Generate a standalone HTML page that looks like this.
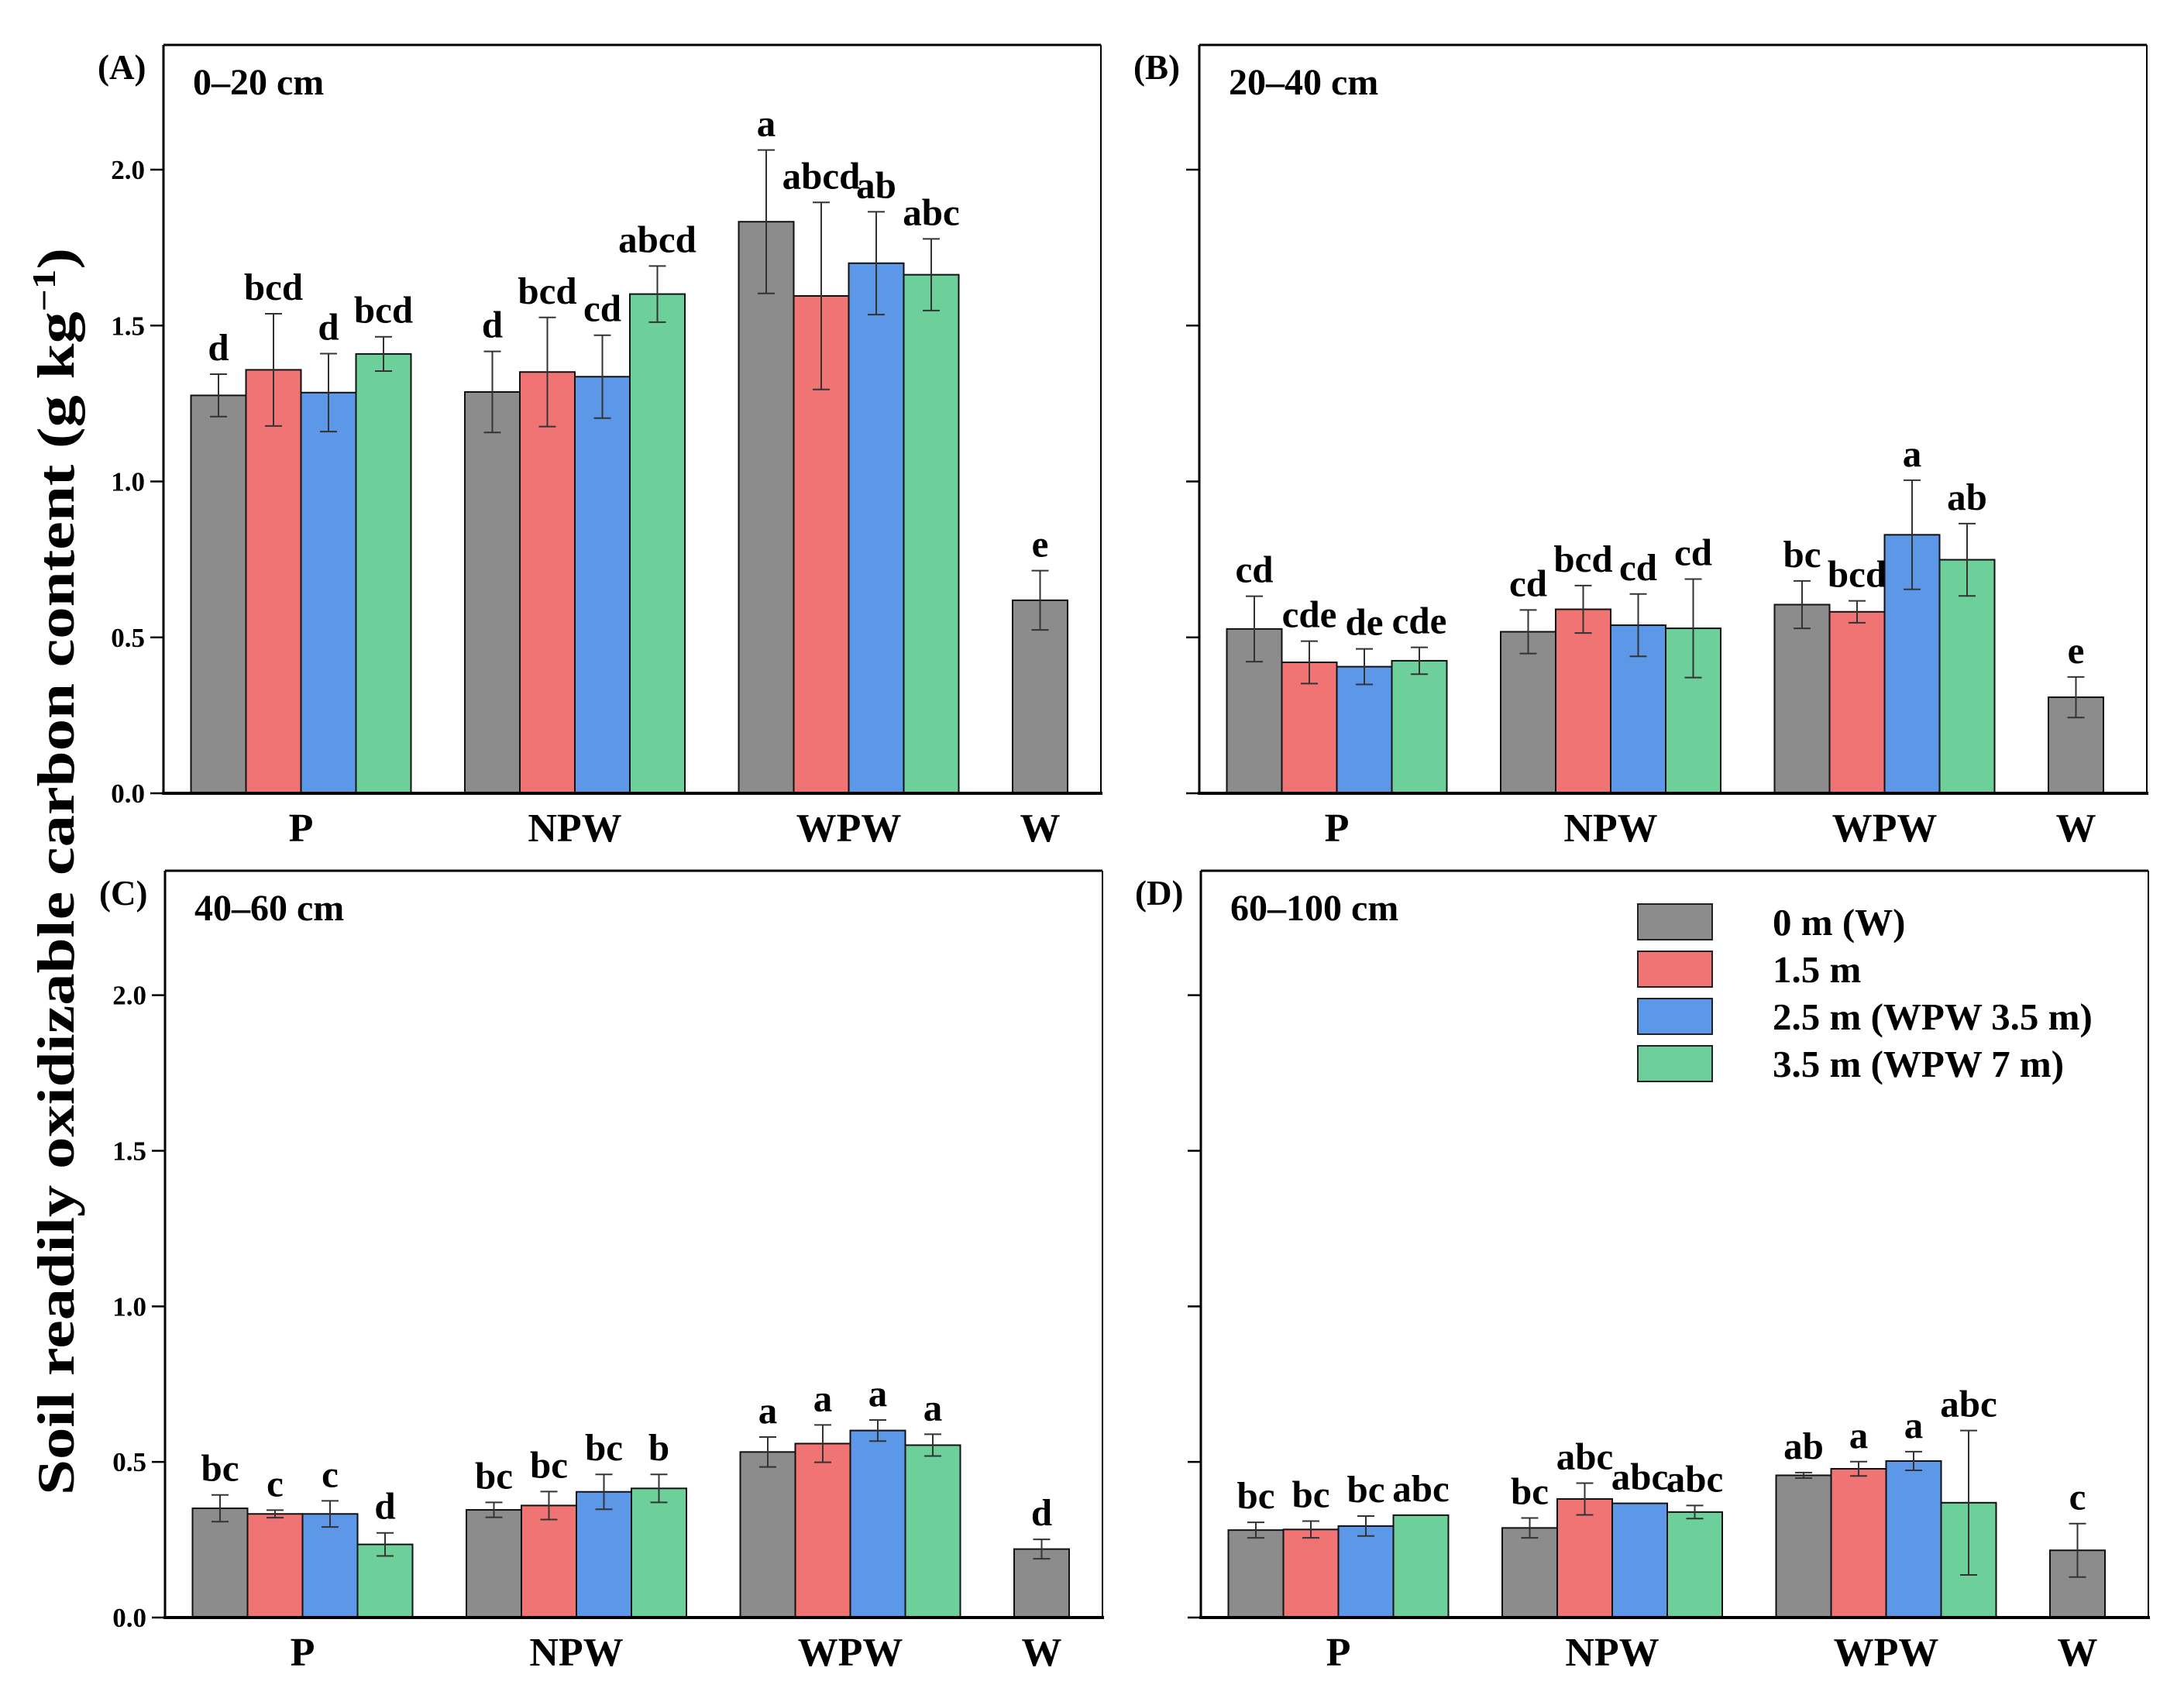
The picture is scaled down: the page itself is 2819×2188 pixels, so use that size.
<!DOCTYPE html>
<html><head><meta charset="utf-8">
<style>
html,body{margin:0;padding:0;background:#fff;}
svg{display:block;font-family:"Liberation Serif","Times New Roman",serif;font-weight:bold;}
</style></head>
<body>
<svg id="chart" width="2819" height="2188" viewBox="0 0 2819 2188" xmlns="http://www.w3.org/2000/svg">
<text x="0" y="0" font-size="68" text-anchor="middle" transform="translate(95,1125) rotate(-90)" textLength="1610" lengthAdjust="spacingAndGlyphs">Soil readily oxidizable carbon content (g kg<tspan dy="-24" font-size="42">−1</tspan><tspan dy="24">)</tspan></text>
<g id="legend"></g>
</svg>
<script>
const categories = ["P","NPW","WPW","W"];
const seriesNames = ["0 m (W)","1.5 m","2.5 m (WPW 3.5 m)","3.5 m (WPW 7 m)"];
const yTicks = [0.0,0.5,1.0,1.5,2.0];
const yTickLabels = ["0.0","0.5","1.0","1.5","2.0"];
// panel A 0-20 cm: [P, NPW, WPW] x 4 series, plus W
const aMeans = [[1.276,1.358,1.285,1.409],[1.287,1.351,1.336,1.601],[1.833,1.595,1.700,1.663],[0.619]];
const aErrs  = [[0.068,0.180,0.125,0.055],[0.130,0.175,0.133,0.090],[0.230,0.300,0.165,0.115],[0.095]];
const aLetters = [["d","bcd","d","bcd"],["d","bcd","cd","abcd"],["a","abcd","ab","abc"],["e"]];
// panel B 20-40 cm
const bMeans = [[0.527,0.420,0.406,0.425],[0.518,0.590,0.539,0.529],[0.605,0.582,0.829,0.749],[0.308]];
const bErrs  = [[0.105,0.068,0.057,0.043],[0.070,0.076,0.100,0.158],[0.076,0.035,0.175,0.116],[0.065]];
const bLetters = [["cd","cde","de","cde"],["cd","bcd","cd","cd"],["bc","bcd","a","ab"],["e"]];
// panel C 40-60 cm
const cMeans = [[0.351,0.333,0.333,0.235],[0.346,0.360,0.404,0.415],[0.532,0.559,0.601,0.554],[0.220]];
const cErrs  = [[0.043,0.012,0.042,0.037],[0.024,0.045,0.056,0.045],[0.048,0.060,0.034,0.035],[0.031]];
const cLetters = [["bc","c","c","d"],["bc","bc","bc","b"],["a","a","a","a"],["d"]];
// panel D 60-100 cm
const dMeans = [[0.281,0.283,0.294,0.329],[0.288,0.381,0.367,0.339],[0.457,0.478,0.503,0.369],[0.216]];
const dErrs  = [[0.025,0.027,0.032,0.000],[0.032,0.051,0.000,0.021],[0.009,0.023,0.030,0.232],[0.086]];
const dLetters = [["bc","bc","bc","abc"],["bc","abc","abc","abc"],["ab","a","a","abc"],["c"]];

const colors = ["#8c8c8c","#f07474","#5c97e8","#6dcf9a"];
const NS = "http://www.w3.org/2000/svg";
const svg = document.getElementById("chart");
function mk(tag, attrs, parent){const e=document.createElementNS(NS,tag);for(const k in attrs)e.setAttribute(k,attrs[k]);(parent||svg).appendChild(e);return e;}

const panels = [
 {id:"a",tag:"(A)",depth:"0–20 cm",L:211,R:1421,T:58,B:1024,labels:true,means:aMeans,errs:aErrs,letters:aLetters},
 {id:"b",tag:"(B)",depth:"20–40 cm",L:1548,R:2771,T:58,B:1024,labels:false,means:bMeans,errs:bErrs,letters:bLetters},
 {id:"c",tag:"(C)",depth:"40–60 cm",L:213,R:1423,T:1124,B:2088,labels:true,means:cMeans,errs:cErrs,letters:cLetters},
 {id:"d",tag:"(D)",depth:"60–100 cm",L:1550,R:2773,T:1124,B:2088,labels:false,means:dMeans,errs:dErrs,letters:dLetters}
];
const yMax = 2.4, barW = 71, groupStep = 353.5, firstOff = 35.5;

panels.forEach(p=>{
  const g = mk("g",{});
  
  
  const y = v => p.B - v/yMax*(p.B-p.T);
  const x = (gi,si) => p.L + firstOff + gi*groupStep + si*barW;
  const top = mk("line",{x1:p.L,y1:p.T,x2:p.R,y2:p.T,stroke:"#000","stroke-width":3},g);
  
  
  const right = mk("line",{x1:p.R,y1:p.T,x2:p.R,y2:p.B,stroke:"#000","stroke-width":2},g);
  
  
  const yax = mk("line",{x1:p.L,y1:p.T,x2:p.L,y2:p.B,stroke:"#000","stroke-width":3},g);
  
  
  yTicks.forEach((t,i)=>{
    const tk = mk("line",{x1:p.L-17,y1:y(t),x2:p.L,y2:y(t),stroke:"#000","stroke-width":2.5},g);
    
    
    if(p.labels){
      const tl = mk("text",{x:p.L-24,y:y(t)+12,"font-size":35,"text-anchor":"end"},g);
      tl.textContent = yTickLabels[i];
      
      
    }
  });
  p.means.forEach((grp,gi)=>{
    grp.forEach((v,si)=>{
      const r = mk("rect",{x:x(gi,si),y:y(v),width:barW,height:p.B-y(v),fill:colors[si],stroke:"#111","stroke-width":2},g);
      
      
      const e = p.errs[gi][si];
      const cx = x(gi,si)+barW/2;
      if(e>0){
        const eb = mk("path",{d:`M${cx-11},${y(v+e)}H${cx+11}M${cx},${y(v+e)}V${y(v-e)}M${cx-11},${y(v-e)}H${cx+11}`,stroke:"#333","stroke-width":2,fill:"none"},g);
        
        
      }
      const lt = mk("text",{x:cx,y:y(v+e)-18,"font-size":49,"text-anchor":"middle"},g);
      lt.textContent = p.letters[gi][si];
      
      
    });
    const n = grp.length;
    const cl = mk("text",{x:x(gi,0)+n*barW/2,y:p.B+62,"font-size":52,"text-anchor":"middle"},g);
    cl.textContent = categories[gi];
    
    
  });
  const xax = mk("line",{x1:p.L-2,y1:p.B,x2:p.R+2,y2:p.B,stroke:"#000","stroke-width":4},g);
  
  
  const tag = mk("text",{x:p.L-85,y:p.T+44,"font-size":45},g);
  tag.textContent = p.tag;
  
  
  const dt = mk("text",{x:p.L+38,y:p.T+64,"font-size":48},g);
  dt.textContent = p.depth;
  
  
});

const lg = document.getElementById("legend");
seriesNames.forEach((s,i)=>{
  const yy = 1167 + i*61;
  const box = mk("rect",{x:2114,y:yy,width:96,height:46,fill:colors[i],stroke:"#222","stroke-width":2},lg);
  
  
  const t = mk("text",{x:2288,y:yy+40,"font-size":49},lg);
  t.textContent = s;
  
  
});
</script>
</body></html>
